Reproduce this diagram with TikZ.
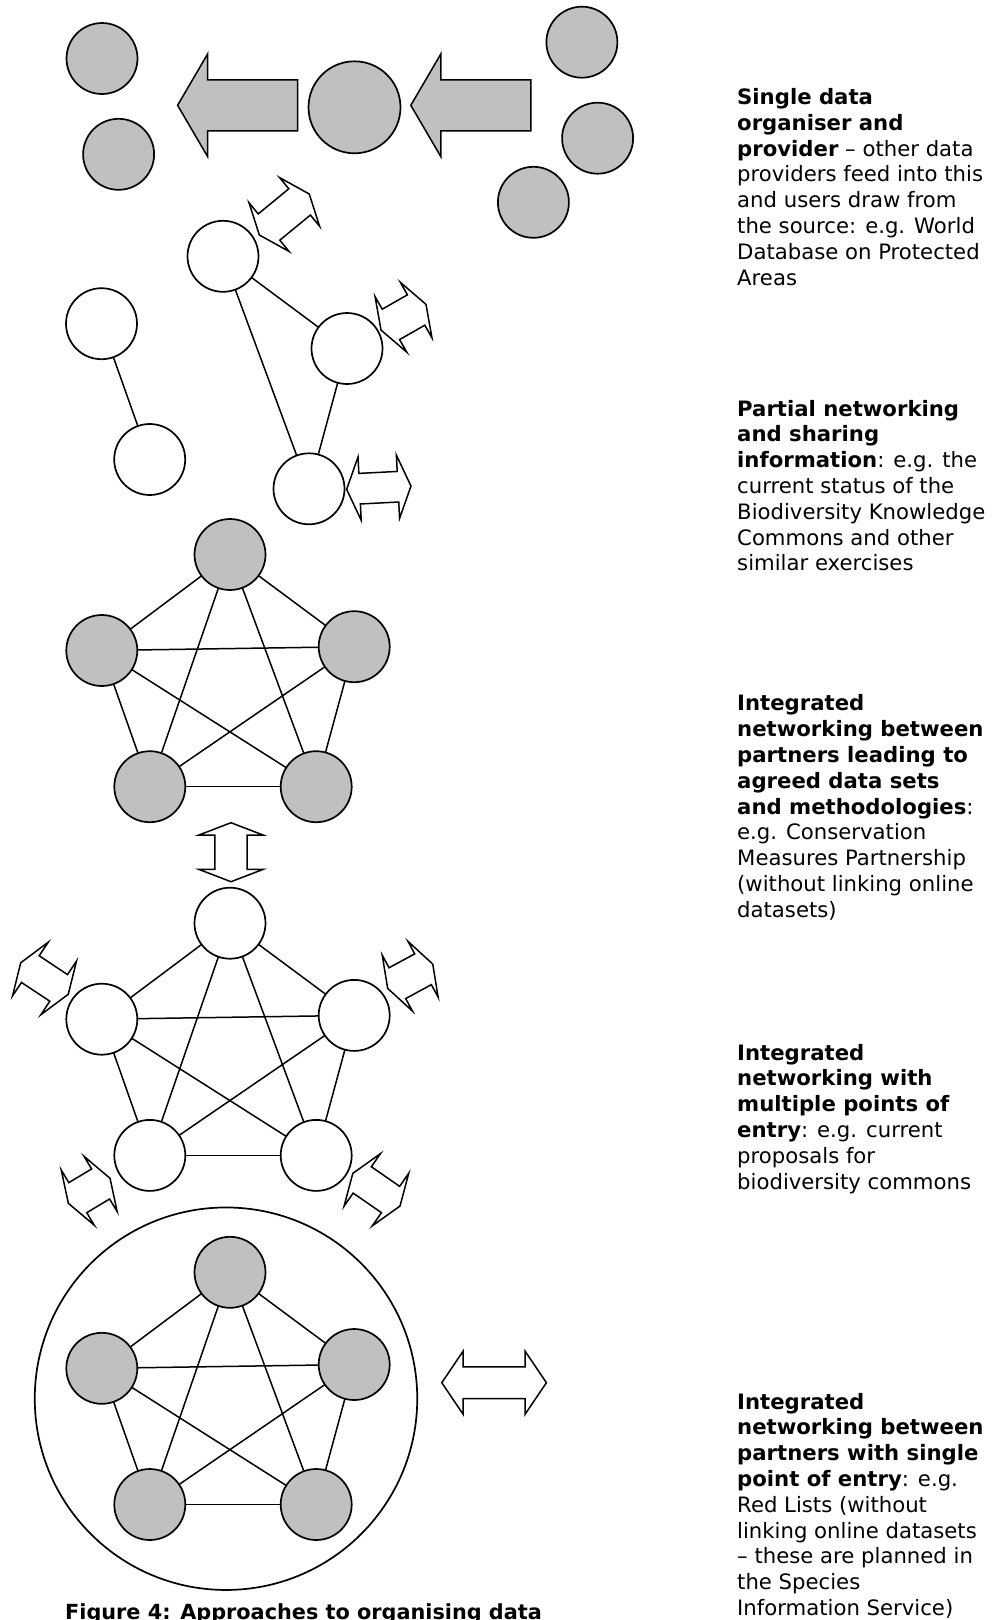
\documentclass[tikz,border=0pt]{standalone}
\usepackage{fontspec}
\setmainfont{DejaVu Sans}
\usetikzlibrary{calc}

\definecolor{discgrey}{HTML}{C0C0C0}

\tikzset{
  disc/.style={circle, draw, line width=1.7pt, minimum size=71pt, inner sep=0pt, outer sep=0pt},
  greydisc/.style={disc, fill=discgrey},
  hollowdisc/.style={disc, fill=white},
  link/.style={line width=1.5pt},
  blockarrow/.style={draw, line width=1.5pt, fill=white, line join=miter},
  note/.style={anchor=base west, inner sep=0pt, font=\fontsize{21.2}{25.83}\selectfont},
  feedarrow/.pic={
    \draw[blockarrow, fill=discgrey] (0,0) -- (30,-51.3) -- (30,-25.5) -- (120,-25.5)
      -- (120,25.5) -- (30,25.5) -- (30,51.3) -- cycle;
  }
}

% double-headed block arrow: centre x, centre y, angle, half length,
% head length, half head width, half shaft width
\newcommand\twoway[7]{%
  \draw[blockarrow, shift={(#1,#2)}, rotate=#3]
    (-#4,0) -- ({-#4+#5},#6) -- ({-#4+#5},#7) -- ({#4-#5},#7) -- ({#4-#5},#6) -- (#4,0)
    -- ({#4-#5},-#6) -- ({#4-#5},-#7) -- ({-#4+#5},-#7) -- ({-#4+#5},-#6) -- cycle;}

% five fully linked partners: name prefix, vertical offset, disc style
\newcommand\pentanet[3]{%
  \node[#3] (#1t) at (230,{554.5+#2}) {};
  \node[#3] (#1l) at (101.8,{650.5+#2}) {};
  \node[#3] (#1r) at (354.2,{646.7+#2}) {};
  \node[#3] (#1a) at (149.8,{786.7+#2}) {};
  \node[#3] (#1b) at (316.2,{786.7+#2}) {};
  \foreach \u/\v in {t/l, t/r, t/a, t/b, l/r, l/a, l/b, r/a, r/b, a/b}
    \draw[link] (#1\u) -- (#1\v);
}

\begin{document}
\begin{tikzpicture}[x=1pt, y=-1pt]
\useasboundingbox (0,0) rectangle (994,1620);

% --- single data organiser and provider
\node[greydisc] (u1) at (102,58.5) {};
\node[greydisc] (u2) at (118.6,154.3) {};
\node[greydisc, minimum size=92pt] (hub) at (354.5,107.3) {};
\node[greydisc] (p1) at (581.9,42.2) {};
\node[greydisc] (p2) at (597.6,138.2) {};
\node[greydisc] (p3) at (533.4,202.3) {};
\pic at (177.6,105.3) {feedarrow};
\pic at (410.8,105.3) {feedarrow};

% --- partial networking
\node[hollowdisc] (w1) at (223,256.3) {};
\node[hollowdisc] (w2) at (101.5,323.7) {};
\node[hollowdisc] (w3) at (347,348.5) {};
\node[hollowdisc] (w4) at (149.7,459.5) {};
\node[hollowdisc] (w5) at (309,488.8) {};
\draw[link] (w2) -- (w4);
\draw[link] (w1) -- (w3);
\draw[link] (w1) -- (w5);
\draw[link] (w3) -- (w5);
\twoway{284.3}{214.5}{39.4}{32.3}{12.5}{31.5}{17}
\twoway{403.5}{317.2}{29.7}{25.9}{11.4}{32}{17.5}
\twoway{378.8}{487.7}{2.9}{32.2}{13}{31.7}{15.3}

% --- integrated networking, agreed data sets
\pentanet{g}{0}{greydisc}
\twoway{231}{852.2}{90}{29.5}{12.3}{32}{16.2}

% --- integrated networking, multiple points of entry
\pentanet{m}{368.7}{hollowdisc}
\twoway{44.5}{978.5}{-33.6}{28.5}{11.5}{32.3}{16}
\twoway{410.2}{976.2}{28.4}{25.6}{11}{31.8}{17.5}
\twoway{89.2}{1190.8}{30.9}{24.3}{11}{32.2}{17.5}
\twoway{376.4}{1189.7}{-34.7}{28.7}{11.5}{32}{16}

% --- integrated networking, single point of entry
\node[circle, draw, line width=1.7pt, minimum size=382.5pt, inner sep=0pt] (ring) at (226,1398.7) {};
\pentanet{s}{717.8}{greydisc}
\twoway{494.1}{1382.7}{0}{52.3}{21.4}{31.7}{15.8}

% --- descriptions
\node[note] (d1) at (737,104.5) {\parbox[t]{300pt}{\raggedright
\textbf{Single data}\\
\textbf{organiser and}\\
\textbf{provider} – other data\\
providers feed into this\\
and users draw from\\
the source: e.g. World\\
Database on Protected\\
Areas}};

\node[note] (d2) at (737,416) {\parbox[t]{300pt}{\raggedright
\textbf{Partial networking}\\
\textbf{and sharing}\\
\textbf{information}: e.g. the\\
current status of the\\
Biodiversity Knowledge\\
Commons and other\\
similar exercises}};

\node[note] (d3) at (737,710.7) {\parbox[t]{300pt}{\raggedright
\textbf{Integrated}\\
\textbf{networking between}\\
\textbf{partners leading to}\\
\textbf{agreed data sets}\\
\textbf{and methodologies}:\\
e.g. Conservation\\
Measures Partnership\\
(without linking online\\
datasets)}};

\node[note] (d4) at (737,1060) {\parbox[t]{300pt}{\raggedright
\textbf{Integrated}\\
\textbf{networking with}\\
\textbf{multiple points of}\\
\textbf{entry}: e.g. current\\
proposals for\\
biodiversity commons}};

\node[note] (d5) at (737,1409) {\parbox[t]{300pt}{\raggedright
\textbf{Integrated}\\
\textbf{networking between}\\
\textbf{partners with single}\\
\textbf{point of entry}: e.g.\\
Red Lists (without\\
linking online datasets\\
– these are planned in\\
the Species\\
Information Service)}};

\node[note, font=\bfseries\fontsize{20.8}{25.83}\selectfont] (caption) at (65,1619)
  {Figure 4: Approaches to organising data};
\end{tikzpicture}
\end{document}
